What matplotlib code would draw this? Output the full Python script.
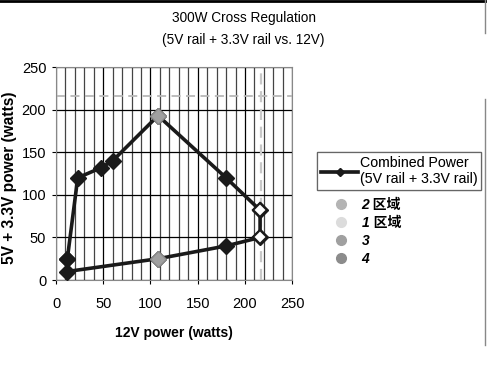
import matplotlib
matplotlib.use("Agg")
import matplotlib.pyplot as plt
from matplotlib.lines import Line2D

# combined power polygon (12V watts, 5V+3.3V watts)
x12 = [12, 23, 48, 60, 108, 180, 216, 216, 180, 108, 12, 12]
y53 = [25, 120, 132, 140, 193, 120, 82, 50, 40, 25, 10, 25]

# region points drawn in other colours
reg2_x = [108, 108]
reg2_y = [193, 25]
reg1_x = [216, 216]
reg1_y = [82, 50]

limit_x = 217
limit_y = 216

legend_labels = ["2 区域", "1 区域", "3", "4"]
legend_colors = ["#b4b4b4", "#dcdcdc", "#a0a0a0", "#8c8c8c"]

plt.rcParams['font.family'] = ['Liberation Sans', 'Noto Sans CJK SC', 'DejaVu Sans']

fig = plt.figure(figsize=(4.87, 3.9), dpi=100)
ax = fig.add_axes([0.115, 0.282, 0.485, 0.546])

ax.set_xlim(0, 250)
ax.set_ylim(0, 250)
ax.set_xticks(range(0, 251, 50))
ax.set_yticks(range(0, 251, 50))
ax.set_xticks(range(0, 251, 10), minor=True)
ax.grid(True, which='major', color='black', lw=0.9)
ax.grid(True, which='minor', axis='x', color='#444444', lw=0.9)
ax.tick_params(which='minor', length=0)
ax.tick_params(which='major', labelsize=10.5, length=3)
ax.tick_params(axis='x', pad=9)
ax.tick_params(axis='y', pad=4)
ax.set_axisbelow(True)
for s in ax.spines.values():
    s.set_color('#888888')

ax.axhline(limit_y, color='#b8b8b8', ls=(0, (5, 3)), lw=1.3)
ax.axvline(limit_x, color='#c8c8c8', ls=(0, (5, 3)), lw=1.6)

ax.plot(x12, y53, color='#1a1a1a', lw=2.6, marker='D', markersize=8,
        markerfacecolor='#1a1a1a', markeredgecolor='#1a1a1a', zorder=3)
ax.plot(reg2_x, reg2_y, ls='none', marker='D', markersize=8,
        markerfacecolor='#a0a0a0', markeredgecolor='#888888', zorder=4)
ax.plot(reg1_x, reg1_y, ls='none', marker='D', markersize=7,
        markerfacecolor='white', markeredgecolor='#1a1a1a', markeredgewidth=1.6, zorder=4)

ax.set_xlabel('12V power (watts)', fontsize=10, fontweight='bold')
ax.set_ylabel('5V + 3.3V power (watts)', fontsize=11.2, fontweight='bold')
ax.xaxis.set_label_coords(0.5, -0.215)
ax.yaxis.set_label_coords(-0.165, 0.48)

fig.text(0.5, 0.955, '300W Cross Regulation', ha='center', va='center', fontsize=9.8)
fig.text(0.5, 0.897, '(5V rail + 3.3V rail vs. 12V)', ha='center', va='center', fontsize=9.8)

h1 = Line2D([], [], color='#1a1a1a', lw=2.6, marker='D', markersize=4)
leg1 = fig.legend([h1], ['Combined Power\n(5V rail + 3.3V rail)'], loc='upper left',
                  bbox_to_anchor=(0.651, 0.611), fontsize=10.2, frameon=True, fancybox=False,
                  edgecolor='#555555', handlelength=2.6, handletextpad=0.1, borderpad=0.3,
                  borderaxespad=0)
leg1.get_frame().set_linewidth(0.9)
fig.add_artist(leg1)

hs = [Line2D([], [], ls='none', marker='o', markersize=7, color=c) for c in legend_colors]
leg2 = fig.legend(hs, legend_labels, loc='upper left', bbox_to_anchor=(0.66, 0.506),
                  frameon=False, handletextpad=0.5, labelspacing=0.28, borderaxespad=0,
                  prop={'family': ['Liberation Sans', 'Noto Sans CJK SC'], 'weight': 'bold',
                        'style': 'italic', 'size': 10})

fig.add_artist(Line2D([0, 1], [0.997, 0.997], color='black', lw=2, transform=fig.transFigure))
fig.add_artist(Line2D([0.996, 0.996], [0.915, 1], color='#888888', lw=1, transform=fig.transFigure))
fig.add_artist(Line2D([0.996, 0.996], [0.115, 0.745], color='#888888', lw=1, transform=fig.transFigure))

fig.savefig('out.png', dpi=100)
